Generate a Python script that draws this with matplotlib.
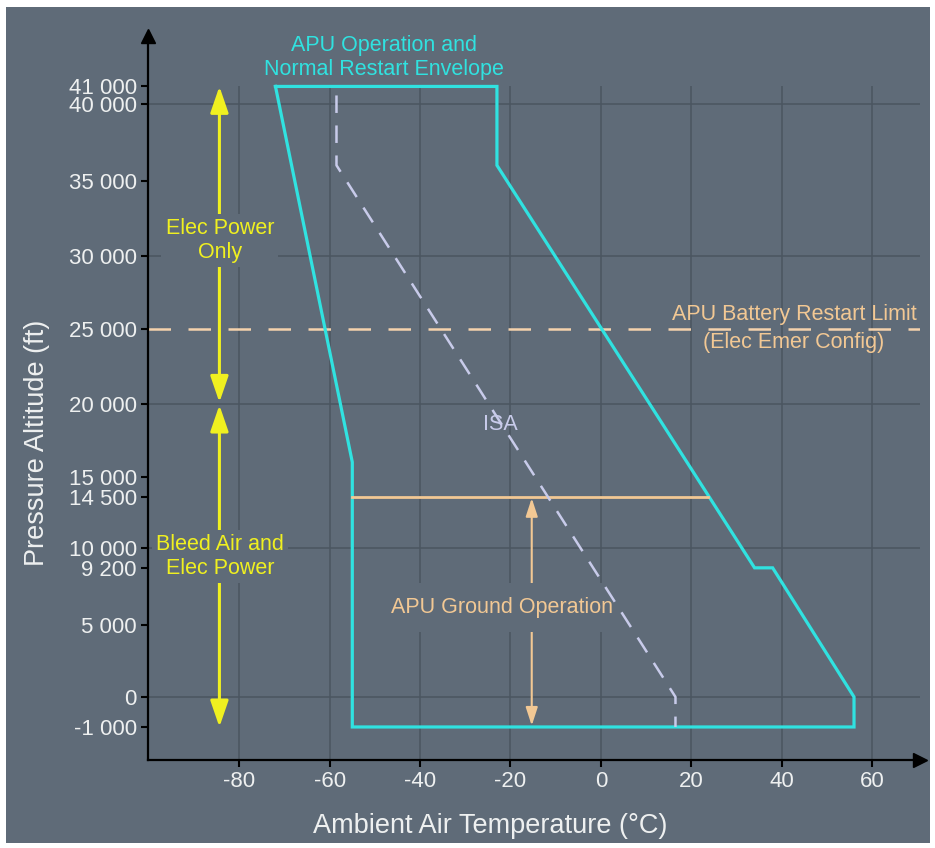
import numpy as np
import matplotlib
matplotlib.use('Agg')
import matplotlib.pyplot as plt
from matplotlib.patches import Rectangle

plt.rcParams['font.family'] = ['Liberation Sans', 'DejaVu Sans']
plt.rcParams['axes.unicode_minus'] = False

# APU envelope outline: temperature (degC) / pressure altitude (ft)
env_temp = [-72, -23, -23, 34, 38, 56, 56, -55, -55, -72]
env_alt = [41000, 41000, 36000, 9200, 9200, 0, -1000, -1000, 16000, 41000]

# ISA line
isa_temp = [-58.5, -58.5, 16.5, 16.5]
isa_alt = [40500, 36000, 0, -1000]

# APU ground operation limit and battery restart limit
ground_temp = [-55, 23.6]
ground_alt = 14500
battery_alt = 25000

x_ticks = [-80, -60, -40, -20, 0, 20, 40, 60]
y_ticks = [-1000, 0, 5000, 9200, 10000, 14500, 15000, 20000, 25000,
           30000, 35000, 40000, 41000]
y_labels = ['-1 000', '0', '5 000', '9 200', '10 000', '14 500', '15 000',
            '20 000', '25 000', '30 000', '35 000', '40 000', '41 000']
grid_alt = [0, 10000, 20000, 30000, 40000]

bg = '#5f6b78'
grid_c = '#4b5560'
cyan = '#30e2e0'
yellow = '#f0f020'
peach = '#f2c894'
lav = '#c8cbea'
txt = '#eef0f0'

# the altitude axis of the original is stretched piecewise (not linear)
knot_alt = [-5000] + y_ticks + [60000]
knot_pos = [847, 727, 697, 625, 568, 548, 497, 477, 404, 329, 256, 181, 105, 87, -255]
knot_u = [-p for p in knot_pos]


def fwd(a):
    return np.interp(a, knot_alt, knot_u)


def inv(u):
    return np.interp(u, knot_u, knot_alt)


fig = plt.figure(figsize=(9.35, 8.48), dpi=100, facecolor='white')
fig.patches.append(Rectangle((6 / 935, 5 / 848), 924 / 935, 836 / 848,
                             transform=fig.transFigure, facecolor=bg,
                             edgecolor='none', zorder=-10))

ax = fig.add_axes([148 / 935, 88 / 848, 772 / 935, 724 / 848])
ax.set_zorder(5)
ax.set_facecolor('none')
ax.set_yscale('function', functions=(fwd, inv))
xmin, xmax = -100.2, 70.6
ymin, ymax = -2100, 43800
ax.set_xlim(xmin, xmax)
ax.set_ylim(ymin, ymax)

for s in ['top', 'right']:
    ax.spines[s].set_visible(False)
for s in ['left', 'bottom']:
    ax.spines[s].set_color('black')
    ax.spines[s].set_linewidth(1.6)
ax.plot([1], [0], marker='>', color='black', markersize=10,
        transform=ax.transAxes, clip_on=False)
ax.plot([0], [1], marker='^', color='black', markersize=10,
        transform=ax.transAxes, clip_on=False)

ax.set_xticks(x_ticks)
ax.set_yticks(y_ticks)
ax.set_yticklabels(y_labels)
ax.minorticks_off()
ax.tick_params(axis='both', colors='black', labelcolor=txt, length=5,
               width=1.5, labelsize=16, pad=3)

# grid
ax.vlines(x_ticks, ymin, 41000, color=grid_c, lw=1.1, zorder=0.5)
ax.hlines(grid_alt, xmin, xmax, color=grid_c, lw=1.1, zorder=0.5)

# envelope + ISA
ax.plot(env_temp, env_alt, color=cyan, lw=2.3, zorder=3, solid_joinstyle='miter')
ax.plot(isa_temp, isa_alt, color=lav, lw=1.8, dashes=(7, 5), zorder=5)
ax.text(-22.3, 18560, 'ISA', color=lav, fontsize=15.5, ha='center', va='center', zorder=6)

# ground operation line and arrow
ax.plot(ground_temp, [ground_alt, ground_alt], color=peach, lw=2, zorder=3)
ax.annotate('', xy=(-15.3, 14500), xytext=(-15.3, -1000),
            arrowprops=dict(arrowstyle='<|-|>,head_length=1.1,head_width=0.36',
                            color=peach, lw=1.5, shrinkA=1, shrinkB=1,
                            mutation_scale=10), zorder=2)
ax.text(-21.9, 6250, 'APU Ground Operation', color=peach, fontsize=15.5,
        ha='center', va='center', zorder=4,
        bbox=dict(boxstyle='square,pad=0.65', fc=bg, ec='none'))

# battery restart limit
ax.axhline(battery_alt, color='#f5d2ac', lw=1.8, dashes=(9, 7), zorder=2)
ax.text(42.7, 25000, 'APU Battery Restart Limit\n(Elec Emer Config)', color=peach,
        fontsize=15.5, ha='center', va='center', multialignment='center',
        linespacing=1.45, zorder=4)

# power supply arrows
ax.annotate('', xy=(-84.4, 41000), xytext=(-84.4, 20000),
            arrowprops=dict(arrowstyle='<|-|>,head_length=1.6,head_width=0.55',
                            color=yellow, lw=2.2, shrinkA=1, shrinkB=0,
                            mutation_scale=10), zorder=2)
ax.annotate('', xy=(-84.4, 20000), xytext=(-84.4, -1000),
            arrowprops=dict(arrowstyle='<|-|>,head_length=1.6,head_width=0.55',
                            color=yellow, lw=2.2, shrinkA=0, shrinkB=1,
                            mutation_scale=10), zorder=2)
ax.text(-84.3, 31000, 'Elec Power\nOnly', color=yellow, fontsize=15.5,
        ha='center', va='center', linespacing=1.15, zorder=4,
        bbox=dict(boxstyle='square,pad=0.2', fc=bg, ec='none'))
ax.text(-84.3, 9650, 'Bleed Air and\nElec Power', color=yellow, fontsize=15.5,
        ha='center', va='center', linespacing=1.15, zorder=4,
        bbox=dict(boxstyle='square,pad=0.2', fc=bg, ec='none'))

# envelope title
ax.text(-48, 42600, 'APU Operation and\nNormal Restart Envelope', color=cyan,
        fontsize=15.5, ha='center', va='center', linespacing=1.2, zorder=4)

fig.text(490 / 935, 1 - 826 / 848, 'Ambient Air Temperature (°C)', color=txt,
         fontsize=19.5, ha='center', va='center')
fig.text(37 / 935, 1 - 443 / 848, 'Pressure Altitude (ft)', color=txt,
         fontsize=19.5, ha='center', va='center', rotation=90)

fig.savefig('out.png', dpi=100, facecolor='white')
